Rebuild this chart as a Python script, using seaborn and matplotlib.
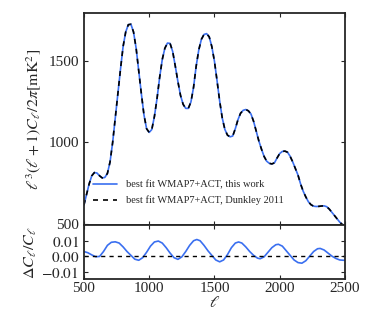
import numpy as np
import pandas as pd
import matplotlib
matplotlib.use("Agg")
import matplotlib.pyplot as plt
import seaborn as sns

# ── DATA ──────────────────────────────────────────────────────
ell_main = [500, 520, 540, 560, 580, 600, 620, 640, 660, 680, 700, 720, 740, 760, 780,
            800, 820, 840, 860, 880, 900, 920, 940, 960, 980, 1000, 1020, 1040, 1060,
            1080, 1100, 1120, 1140, 1160, 1180, 1200, 1220, 1240, 1260, 1280, 1300,
            1320, 1340, 1360, 1380, 1400, 1420, 1440, 1460, 1480, 1500, 1520, 1540,
            1560, 1580, 1600, 1620, 1640, 1660, 1680, 1700, 1720, 1740, 1760, 1780,
            1800, 1820, 1840, 1860, 1880, 1900, 1920, 1940, 1960, 1980, 2000, 2020,
            2040, 2060, 2080, 2100, 2120, 2140, 2160, 2180, 2200, 2220, 2240, 2260,
            2280, 2300, 2320, 2340, 2360, 2380, 2400, 2420, 2440, 2460, 2480, 2500]
dl_main = [615, 680, 745, 795, 815, 812, 795, 782, 785, 810, 880, 1000, 1150, 1300, 1450,
           1590, 1680, 1725, 1728, 1680, 1580, 1440, 1300, 1170, 1085, 1062, 1080, 1160, 1270,
           1400, 1510, 1580, 1612, 1610, 1560, 1470, 1375, 1290, 1235, 1210, 1210,
           1250, 1340, 1470, 1570, 1635, 1665, 1670, 1650, 1590, 1500, 1380, 1255,
           1150, 1080, 1045, 1035, 1040, 1085, 1140, 1180, 1198, 1203, 1195, 1175,
           1130, 1070, 1010, 960, 915, 885, 872, 868, 875, 905, 932, 945,
           947, 940, 915, 880, 840, 800, 745, 700, 665, 635, 617, 608,
           606, 607, 609, 610, 605, 590, 570, 550, 530, 510, 495, 482]

ell_diff = [500, 530, 560, 590, 620, 650, 680, 710, 740, 770, 800, 830, 860, 890, 920,
            950, 980, 1010, 1040, 1070, 1100, 1130, 1160, 1190, 1220, 1250, 1280, 1310,
            1340, 1365, 1390, 1420, 1450, 1480, 1510, 1540, 1570, 1600, 1630, 1660,
            1685, 1710, 1740, 1770, 1800, 1830, 1850, 1880, 1910, 1940, 1970, 1990,
            2020, 2050, 2080, 2110, 2140, 2170, 2200, 2230, 2260, 2290, 2310, 2340,
            2370, 2400, 2430, 2460, 2490, 2500]
frac_diff = [0.0030, 0.0022, 0.0008, -0.0004, -0.0002, 0.0030, 0.0070, 0.0090, 0.0093,
             0.0085, 0.0060, 0.0030, 0.0005, -0.0020, -0.0027, -0.0010, 0.0025, 0.0065,
             0.0092, 0.0098, 0.0085, 0.0055, 0.0020, -0.0010, -0.0021, -0.0005, 0.0030,
             0.0070, 0.0100, 0.0108, 0.0100, 0.0070, 0.0035, 0.0005, -0.0025, -0.0037,
             -0.0025, 0.0010, 0.0055, 0.0085, 0.0092, 0.0085, 0.0060, 0.0030, 0.0005,
             -0.0013, -0.0017, -0.0005, 0.0025, 0.0055, 0.0074, 0.0077, 0.0065, 0.0035,
             0.0005, -0.0025, -0.0042, -0.0046, -0.0030, 0.0000, 0.0030, 0.0048, 0.0050,
             0.0040, 0.0020, 0.0000, -0.0015, -0.0025, -0.0027, -0.0026]

label_this = "best fit WMAP7+ACT, this work"
label_dunk = "best fit WMAP7+ACT, Dunkley 2011"
BLUE = "#3a6ff0"

# ── STYLE ─────────────────────────────────────────────────────
sns.set_style("ticks")
plt.rcParams["font.family"] = ["Liberation Serif", "DejaVu Serif"]
plt.rcParams["mathtext.fontset"] = "stix"
plt.rcParams["xtick.direction"] = "in"
plt.rcParams["ytick.direction"] = "in"

main_df = pd.DataFrame({"ell": ell_main, "dl": dl_main})
diff_df = pd.DataFrame({"ell": ell_diff, "frac": frac_diff})

fig = plt.figure(figsize=(3.85, 3.13), dpi=100)
ax1 = fig.add_axes([0.218, 0.280, 0.678, 0.680])
ax2 = fig.add_axes([0.218, 0.108, 0.678, 0.172], sharex=ax1)

# ── MAIN PANEL ────────────────────────────────────────────────
sns.lineplot(data=main_df, x="ell", y="dl", ax=ax1, color=BLUE, lw=1.2,
             label=label_this)
sns.lineplot(data=main_df, x="ell", y="dl", ax=ax1, color="black", lw=1.2,
             linestyle=(0, (3, 3)), label=label_dunk)
ax1.set_xlim(500, 2500)
ax1.set_ylim(490, 1800)
ax1.set_yticks([500, 1000, 1500])
ax1.set_xlabel("")
ax1.set_ylabel(r"$\ell^3(\ell+1)C_\ell/2\pi[\mathrm{mK}^2]$", fontsize=11.5)
ax1.tick_params(labelbottom=False, top=True, right=True, labelsize=11, length=3)
ax1.legend(loc="lower left", bbox_to_anchor=(0.0, 0.05), frameon=False,
           fontsize=7.5, handlelength=2.3, labelspacing=0.6)

# ── RESIDUAL PANEL ────────────────────────────────────────────
sns.lineplot(data=diff_df, x="ell", y="frac", ax=ax2, color=BLUE, lw=1.2)
ax2.axhline(0.0, color="black", lw=1.0, linestyle=(0, (3, 3)))
ax2.set_ylim(-0.015, 0.02)
ax2.set_yticks([-0.01, 0.0, 0.01])
ax2.set_yticklabels([r"$-0.01$", r"$0.00$", r"$0.01$"])
ax2.set_xticks([500, 1000, 1500, 2000, 2500])
ax2.set_xlabel(r"$\ell$", fontsize=11.5, labelpad=0)
ax2.set_ylabel(r"$\Delta C_\ell/C_\ell$", fontsize=11.5, labelpad=2)
ax2.tick_params(axis="x", pad=2)
ax2.tick_params(top=True, right=True, labelsize=11, length=3)

for ax in (ax1, ax2):
    for s in ax.spines.values():
        s.set_linewidth(1.3)

fig.savefig("out.png", dpi=100)
